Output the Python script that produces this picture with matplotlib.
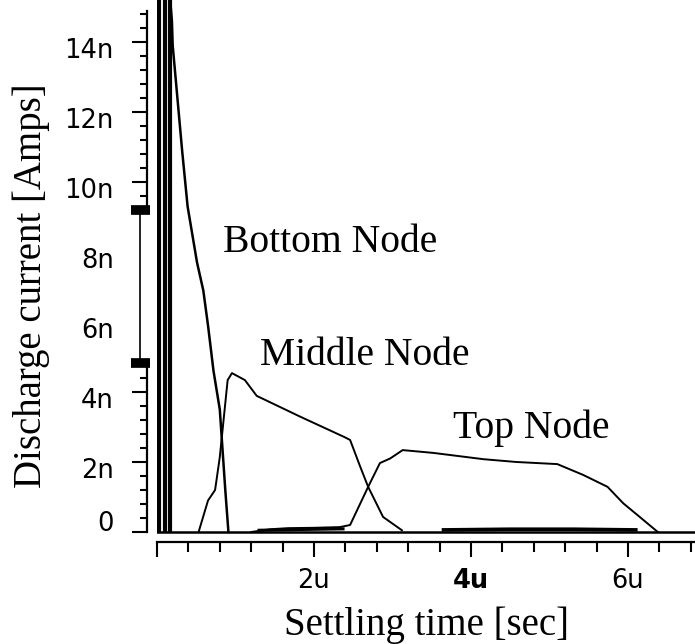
import matplotlib
matplotlib.use("Agg")
import matplotlib.pyplot as plt
import matplotlib.transforms as mtrans
from matplotlib.ticker import FixedLocator

# ---- data (time in microseconds, current in nA) ----
spike_x = [0.025, 0.10, 0.165]           # initial off-scale transients
spike_top = 16.0

bottom_x = [0.165, 0.19, 0.20, 0.32, 0.39, 0.51, 0.59, 0.65, 0.72, 0.80, 0.87, 0.91]
bottom_y = [15.3, 14.6, 13.9, 10.9, 9.3, 7.7, 6.9, 5.9, 4.6, 3.5, 1.2, 0.0]

middle_x = [0.53, 0.65, 0.74, 0.80, 0.90, 0.955, 1.12, 1.27, 1.82, 2.39, 2.46, 2.59, 2.69, 2.88, 3.12]
middle_y = [0.0, 0.9, 1.2, 2.14, 4.34, 4.54, 4.34, 3.89, 3.3, 2.71, 2.63, 1.86, 1.29, 0.43, 0.05]

top_x = [1.2, 1.45, 1.67, 2.0, 2.33, 2.46, 2.69, 2.84, 2.97, 3.13, 3.52, 4.16, 4.58, 5.1, 5.43, 5.74, 5.94, 6.15, 6.38]
top_y = [0.0, 0.08, 0.11, 0.12, 0.14, 0.2, 1.29, 1.97, 2.1, 2.34, 2.26, 2.08, 2.0, 1.94, 1.63, 1.29, 0.82, 0.43, 0.0]

tail_x = [1.3, 1.8, 2.37]
tail_y = [0.05, 0.07, 0.09]
tail2_x = [3.65, 4.5, 5.3, 6.1]
tail2_y = [0.06, 0.08, 0.08, 0.06]

yticks = [0, 2, 4, 6, 8, 10, 12, 14]
ytick_labels = ["0", "2n", "4n", "6n", "8n", "10n", "12n", "14n"]
xticks = [0, 2, 4, 6]
xtick_labels = ["", "2u", "4u", "6u"]
break_lo, break_hi = 4.83, 9.21
label_bottom = "Bottom Node"
label_middle = "Middle Node"
label_top = "Top Node"

# ---- figure ----
W, H = 695, 644
fig = plt.figure(figsize=(W / 100, H / 100), dpi=100)
ax = fig.add_axes([157 / W, 1 - 535.5 / H, 1 - 157 / W, 535.5 / H])
ax.set_xlim(0, 6.854)
ax.set_ylim(-0.1, 15.2)

lw = 1.4
ax.axhline(0, color="black", lw=1.8, zorder=2)
for sx in spike_x:
    ax.plot([sx, sx], [0, spike_top], color="black", lw=3.0, solid_capstyle="butt")
ax.plot(bottom_x, bottom_y, color="black", lw=1.8)
ax.plot(middle_x, middle_y, color="black", lw=lw)
ax.plot(top_x, top_y, color="black", lw=lw)
ax.plot(tail_x, tail_y, color="black", lw=2.2)
ax.plot(tail2_x, tail2_y, color="black", lw=2.6)

serif = ["Liberation Serif", "DejaVu Serif"]
ax.text(2.20, 8.0, label_bottom, family=serif, fontsize=28.5, ha="center", va="baseline")
ax.text(2.65, 4.77, label_middle, family=serif, fontsize=28.5, ha="center", va="baseline")
ax.text(4.77, 2.69, label_top, family=serif, fontsize=28.5, ha="center", va="baseline")

# spines
for s in ["top", "right"]:
    ax.spines[s].set_visible(False)
ax.spines["bottom"].set_position(("outward", 4.7))
ax.spines["left"].set_position(("outward", 7.2))
ax.spines["bottom"].set_linewidth(1.6)
ax.spines["left"].set_linewidth(1.6)
ax.spines["left"].set_bounds(0, break_lo)
ax.spines["bottom"].set_bounds(0, 6.854)

# upper part of the broken y spine and the break marker
ytrans = mtrans.blended_transform_factory(ax.transAxes, ax.transData)
off_spine = ytrans + mtrans.ScaledTranslation(-0.10, 0, fig.dpi_scale_trans)
ax.plot([0, 0], [break_hi, 14.9], color="black", lw=1.6, transform=off_spine, clip_on=False)
off_mark = ytrans + mtrans.ScaledTranslation(-0.17, 0, fig.dpi_scale_trans)
ax.plot([0, 0], [break_lo, break_hi], color="black", lw=1.2, transform=off_mark, clip_on=False)
cap_l = ytrans + mtrans.ScaledTranslation(-0.26, 0, fig.dpi_scale_trans)
cap_len = 0.19 / ((1 - 157 / W) * W / 100)   # 0.19 inch in axes fraction
for yb in [break_lo, break_hi]:
    ax.plot([0, cap_len], [yb, yb], color="black", lw=7.0,
            solid_capstyle="butt", transform=cap_l, clip_on=False)

# ticks
ax.set_yticks(yticks)
ax.set_yticklabels(ytick_labels)
minor_y = [round(0.4 * k, 1) for k in range(1, 38)]
minor_y = [v for v in minor_y if v % 2 != 0 and not (break_lo - 0.1 < v < break_hi + 0.1)]
ax.yaxis.set_minor_locator(FixedLocator(minor_y))
ax.set_xticks(xticks)
ax.set_xticklabels(xtick_labels)
ax.xaxis.set_minor_locator(FixedLocator([round(0.4 * k, 1) for k in range(1, 18) if round(0.4 * k, 1) % 2 != 0]))

ax.tick_params(axis="both", which="major", direction="out", length=10.8, width=1.5,
               labelsize=18.5, color="black")
ax.tick_params(axis="y", which="major", pad=13)
ax.tick_params(axis="x", which="major", pad=8)
ax.tick_params(axis="y", which="minor", direction="out", length=5.2, width=1.5)
ax.tick_params(axis="x", which="minor", direction="out", length=7.2, width=1.5)

for t, v in zip(ax.yaxis.get_major_ticks(), yticks):
    if break_lo < v < break_hi:
        t.tick1line.set_visible(False)
for lab, v in zip(ax.get_yticklabels(), yticks):
    dy = 0.11 if v == 0 else -0.06
    lab.set_transform(lab.get_transform() + mtrans.ScaledTranslation(0, dy, fig.dpi_scale_trans))
for lab, txt in zip(ax.get_xticklabels(), xtick_labels):
    if txt == "4u":
        lab.set_fontweight("bold")

fig.text(31 / W, 1 - 286 / H, "Discharge current [Amps]", family=serif, fontsize=28,
         rotation=90, ha="center", va="center")
fig.text(426 / W, 1 - 635 / H, "Settling time [sec]", family=serif, fontsize=28,
         ha="center", va="baseline")

fig.savefig("out.png", dpi=100, facecolor="white")
